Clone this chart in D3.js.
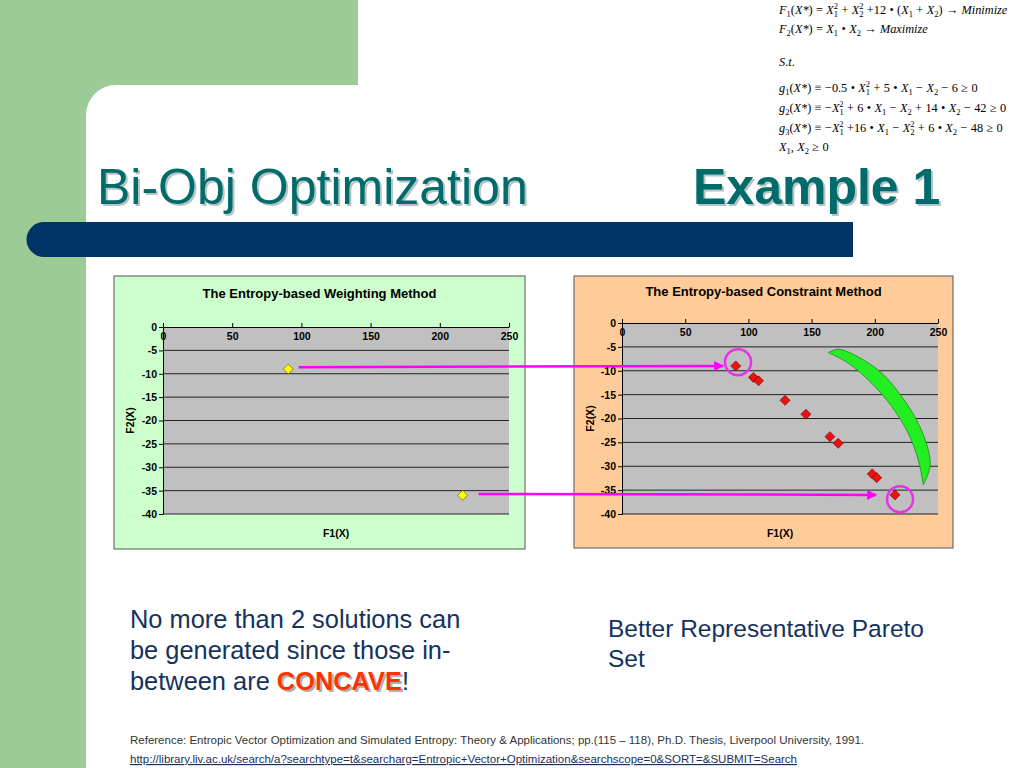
<!DOCTYPE html>
<html>
<head>
<meta charset="utf-8">
<script src="https://cdn.jsdelivr.net/npm/d3@7"></script>
<style>
  html, body { margin: 0; padding: 0; background: #fff; }
  svg { display: block; }
</style>
</head>
<body>
<svg id="slide"></svg>
<script>
// ---- data ----
const xTicks = [0, 50, 100, 150, 200, 250];
const yTicks = [0, -5, -10, -15, -20, -25, -30, -35, -40];

// entropy-based weighting method: only 2 solutions
const f1Weighting = [90.5, 216.5];
const f2Weighting = [-9, -36];

// entropy-based constraint method
const f1Constraint = [90, 104, 108, 129, 145.5, 164.5, 171, 198, 201.5, 216];
const f2Constraint = [-9, -11.4, -12.1, -16.2, -19.1, -23.8, -25.2, -31.6, -32.4, -36];

// green crescent (data coords of right chart)
const crescentOuterF1 = [163.2, 171.1, 186.9, 205.5, 221.3, 234.4, 242.3, 243.7, 238.4];
const crescentOuterF2 = [-6.2, -5.5, -7.1, -10.5, -15.4, -21.0, -26.6, -30.1, -33.9];
const crescentInnerF1 = [238.4, 234.4, 226.5, 213.4, 197.5, 179.0, 163.2];
const crescentInnerF2 = [-33.9, -28.7, -23.1, -17.5, -12.6, -8.4, -6.2];

// arrows: start in left chart, end in right chart
const arrowFromF1 = [98, 228];
const arrowFromF2 = [-8.6, -35.7];
const arrowToF1 = [80, 201];
const arrowToF2 = [-9, -36];

// highlight circles in right chart
const circleF1 = [91.8, 220];
const circleF2 = [-8.2, -36.9];

const formulas = [
  'F_1(X*) = X_1^2 + X_2^2 +12 • (X_1 + X_2) → Minimize',
  'F_2(X*) = X_1 • X_2 → Maximize',
  'S.t.',
  'g_1(X*) ≡ −0.5 • X_1^2 + 5 • X_1 − X_2 − 6 ≥ 0',
  'g_2(X*) ≡ −X_1^2 + 6 • X_1 − X_2 + 14 • X_2 − 42 ≥ 0',
  'g_3(X*) ≡ −X_1^2 +16 • X_1 − X_2^2 + 6 • X_2 − 48 ≥ 0',
  'X_1, X_2 ≥ 0'
];
const formulaBaselines = [14, 33, 66, 92, 112, 132, 151];

const W = 1024, H = 768;
const sans = '"Liberation Sans", Arial, sans-serif';
const serif = '"Liberation Serif", "Times New Roman", serif';

const svg = d3.select('#slide').attr('width', W).attr('height', H);

const defs = svg.append('defs');
defs.append('marker')
  .attr('id', 'arrowhead')
  .attr('viewBox', '0 0 10 10')
  .attr('refX', 9).attr('refY', 5)
  .attr('markerWidth', 4).attr('markerHeight', 4)
  .attr('orient', 'auto')
  .append('path')
  .attr('d', 'M0,0 L10,5 L0,10 Z')
  .attr('fill', '#ff00ff');

// ---- slide background ----
svg.append('path')
  .attr('d', 'M0,0 H358 V85 H116 A30,30 0 0 0 86,115 V768 H0 Z')
  .attr('fill', '#9ccb98');

svg.append('path')
  .attr('d', 'M853,222 H44 A17.5,17.5 0 0 0 44,257 H853 Z')
  .attr('fill', '#003366');

// ---- title ----
const titleY = 204;
[['Bi-Obj Optimization', 97, 'normal'], ['Example 1', 693, 'bold']].forEach(([txt, x, w]) => {
  svg.append('text')
    .attr('x', x + 2).attr('y', titleY + 2)
    .attr('font-family', sans).attr('font-size', 50).attr('font-weight', w)
    .attr('fill', '#b8c4c4')
    .text(txt);
  svg.append('text')
    .attr('x', x).attr('y', titleY)
    .attr('font-family', sans).attr('font-size', 50).attr('font-weight', w)
    .attr('fill', '#006b6b')
    .text(txt);
});

// ---- formulas ----
function mathText(str, x, y) {
  const tokens = [];
  for (let i = 0; i < str.length; i++) {
    const c = str[i];
    if (c === '_') {
      tokens.push({ t: str[++i], k: 'sub' });
      if (str[i + 1] === '^') { i += 2; tokens.push({ t: str[i], k: 'sup', back: true }); }
    } else if (c === '^') {
      tokens.push({ t: str[++i], k: 'sup' });
    } else {
      const it = /[A-Za-z*]/.test(c);
      const last = tokens[tokens.length - 1];
      if (last && last.k === 'n' && last.it === it) last.t += c;
      else tokens.push({ t: c, k: 'n', it });
    }
  }
  const text = svg.append('text')
    .attr('x', x).attr('y', y)
    .attr('font-family', serif).attr('font-size', 12.3).attr('fill', '#000')
    .attr('word-spacing', 0.3)
    .attr('xml:space', 'preserve');
  const level = { n: 0, sub: 3, sup: -5 };
  let cur = 0;
  tokens.forEach(tk => {
    const ts = text.append('tspan').text(tk.t);
    const target = level[tk.k];
    if (target !== cur) ts.attr('dy', target - cur);
    cur = target;
    if (tk.k !== 'n') ts.attr('font-size', 8.5);
    if (tk.back) ts.attr('dx', -4.3);
    if (tk.k === 'n' && tk.it) ts.attr('font-style', 'italic');
  });
}
formulas.forEach((f, i) => mathText(f, 779, formulaBaselines[i]));

// ---- charts ----
function drawChart(o) {
  const g = svg.append('g');
  g.append('rect')
    .attr('x', o.box[0]).attr('y', o.box[1])
    .attr('width', o.box[2] - o.box[0]).attr('height', o.box[3] - o.box[1])
    .attr('fill', o.bg).attr('stroke', '#555').attr('stroke-width', 1);

  const x = d3.scaleLinear().domain([0, 250]).range([o.plot[0], o.plot[2]]);
  const y = d3.scaleLinear().domain([0, -40]).range([o.plot[1], o.plot[3]]);

  g.append('rect')
    .attr('x', o.plot[0]).attr('y', o.plot[1])
    .attr('width', o.plot[2] - o.plot[0]).attr('height', o.plot[3] - o.plot[1])
    .attr('fill', '#c0c0c0');

  g.selectAll('.grid')
    .data(yTicks.slice(1))
    .enter().append('line')
    .attr('x1', o.plot[0]).attr('x2', o.plot[2])
    .attr('y1', d => y(d)).attr('y2', d => y(d))
    .attr('stroke', '#222').attr('stroke-width', 1);

  const fmt = d => String(d);
  const xAxis = g.append('g')
    .attr('transform', `translate(0,${y(0)})`)
    .call(d3.axisTop(x).tickValues(xTicks).tickFormat(fmt).tickSize(4).tickSizeOuter(0));
  xAxis.selectAll('text').attr('y', 6).attr('dy', '0.71em');

  const yAxis = g.append('g')
    .attr('transform', `translate(${x(0)},0)`)
    .call(d3.axisLeft(y).tickValues(yTicks).tickFormat(fmt).tickSize(4).tickSizeOuter(0));
  yAxis.selectAll('text').attr('x', -6);

  [xAxis, yAxis].forEach(a => {
    a.select('.domain').attr('stroke', '#000');
    a.selectAll('.tick line').attr('stroke', '#000');
    a.selectAll('text')
      .attr('font-family', sans).attr('font-size', 10.5).attr('font-weight', 'bold').attr('fill', '#000');
  });

  g.append('text')
    .attr('x', (o.box[0] + o.box[2]) / 2).attr('y', o.titleY)
    .attr('text-anchor', 'middle')
    .attr('font-family', sans).attr('font-size', 13).attr('font-weight', 'bold')
    .text(o.title);

  g.append('text')
    .attr('x', (o.plot[0] + o.plot[2]) / 2).attr('y', 537)
    .attr('text-anchor', 'middle')
    .attr('font-family', sans).attr('font-size', 10.5).attr('font-weight', 'bold')
    .text('F1(X)');

  g.append('text')
    .attr('transform', `translate(${o.yTitleX},${(o.plot[1] + o.plot[3]) / 2}) rotate(-90)`)
    .attr('text-anchor', 'middle')
    .attr('font-family', sans).attr('font-size', 10.5).attr('font-weight', 'bold')
    .text('F2(X)');

  g.selectAll('.pt')
    .data(o.f1.map((d, i) => [d, o.f2[i]]))
    .enter().append('path')
    .attr('d', d3.symbol(d3.symbolSquare, 50)())
    .attr('transform', d => `translate(${x(d[0])},${y(d[1])}) rotate(45)`)
    .attr('fill', o.ptFill).attr('stroke', o.ptStroke).attr('stroke-width', 0.6);

  return { x, y, g };
}

const left = drawChart({
  box: [114, 276, 525, 549], plot: [163, 327, 509, 514],
  bg: '#ccffcc', title: 'The Entropy-based Weighting Method', titleY: 298, yTitleX: 134,
  f1: f1Weighting, f2: f2Weighting, ptFill: '#ffff00', ptStroke: '#555500'
});

const right = drawChart({
  box: [574, 276, 953, 548], plot: [622, 323, 938, 514],
  bg: '#ffcc99', title: 'The Entropy-based Constraint Method', titleY: 296, yTitleX: 594,
  f1: f1Constraint, f2: f2Constraint, ptFill: '#ee1111', ptStroke: '#700000'
});

// crescent
const cx = right.x, cy = right.y;
const edge = d3.line().x(d => cx(d[0])).y(d => cy(d[1])).curve(d3.curveCatmullRom);
const outerD = edge(crescentOuterF1.map((d, i) => [d, crescentOuterF2[i]]));
const innerD = edge(crescentInnerF1.map((d, i) => [d, crescentInnerF2[i]]));
right.g.append('path')
  .attr('d', outerD + innerD.replace(/^M/, 'L') + 'Z')
  .attr('fill', '#22ee22').attr('stroke', '#228822').attr('stroke-width', 0.8);

// circles
right.g.selectAll('.ring')
  .data(circleF1.map((d, i) => [d, circleF2[i]]))
  .enter().append('circle')
  .attr('cx', d => cx(d[0])).attr('cy', d => cy(d[1]))
  .attr('r', 13)
  .attr('fill', 'none').attr('stroke', '#e633e6').attr('stroke-width', 2.5);

// arrows
svg.selectAll('.arrow')
  .data(arrowFromF1.map((d, i) => i))
  .enter().append('line')
  .attr('x1', i => left.x(arrowFromF1[i])).attr('y1', i => left.y(arrowFromF2[i]))
  .attr('x2', i => right.x(arrowToF1[i])).attr('y2', i => right.y(arrowToF2[i]))
  .attr('stroke', '#ff00ff').attr('stroke-width', 2.5)
  .attr('marker-end', 'url(#arrowhead)');

// ---- bottom text ----
const textColor = '#14325e';
const bodyLines = ['No more than 2 solutions can', 'be generated since those in-'];
bodyLines.forEach((t, i) => {
  svg.append('text')
    .attr('x', 130).attr('y', 628 + i * 31)
    .attr('font-family', sans).attr('font-size', 25.4).attr('fill', textColor)
    .text(t);
});
// third line with shadowed CONCAVE
const line3 = [['between are ', 'normal', textColor], ['CONCAVE', 'bold', '#ff3300'], ['!', 'normal', textColor]];
[[2, true], [0, false]].forEach(([off, shadow]) => {
  const t = svg.append('text')
    .attr('x', 130 + off).attr('y', 690 + off)
    .attr('font-family', sans).attr('font-size', 25.4)
    .attr('xml:space', 'preserve');
  line3.forEach(([s, w, c], j) => {
    t.append('tspan').attr('font-weight', w)
      .attr('fill', shadow ? (j === 1 ? '#b0b0b0' : 'none') : c)
      .text(s);
  });
});

['Better Representative Pareto', 'Set'].forEach((t, i) => {
  svg.append('text')
    .attr('x', 608).attr('y', 637 + i * 30)
    .attr('font-family', sans).attr('font-size', 24.5).attr('fill', textColor)
    .text(t);
});

svg.append('text')
  .attr('x', 130).attr('y', 744)
  .attr('font-family', sans).attr('font-size', 11.5).attr('fill', '#333')
  .text('Reference: Entropic Vector Optimization and Simulated Entropy: Theory & Applications; pp.(115 – 118), Ph.D. Thesis, Liverpool University, 1991.');

svg.append('text')
  .attr('x', 130).attr('y', 763)
  .attr('font-family', sans).attr('font-size', 11.5).attr('fill', '#1a2f5a')
  .attr('text-decoration', 'underline')
  .text('http://library.liv.ac.uk/search/a?searchtype=t&searcharg=Entropic+Vector+Optimization&searchscope=0&SORT=&SUBMIT=Search');
</script>
</body>
</html>
